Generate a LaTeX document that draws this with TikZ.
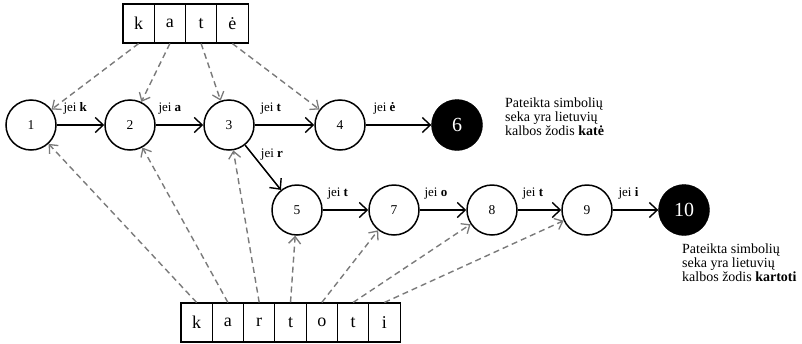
\documentclass[tikz,border=0pt]{standalone}
\usepackage{fontspec}
\setmainfont{Liberation Serif}
\usetikzlibrary{arrows.meta}
\definecolor{linkgray}{HTML}{7A7A7A}
\begin{document}
\begin{tikzpicture}[x=1pt,y=-1pt,
 state/.style={circle,draw,line width=1.5pt,minimum size=50pt,inner sep=0pt,font=\fontsize{13.5}{13.5}\selectfont},
 final/.style={circle,fill=black,draw=black,minimum size=51pt,inner sep=0pt,text=white,font=\fontsize{20}{20}\selectfont},
 letter/.style={draw,line width=1.1pt,minimum width=31.3pt,minimum height=39pt,inner sep=0pt,font=\fontsize{18}{18}\selectfont},
 trans/.style={-{Straight Barb[length=8pt,width=15pt,line width=1.4pt]},line width=1.5pt},
 link/.style={-{Straight Barb[length=7pt,width=12pt,line width=1.3pt]},draw=linkgray,dash pattern=on 6pt off 4pt,line width=1.4pt},
 lbl/.style={font=\fontsize{13}{13}\selectfont,anchor=south west,inner sep=1pt},
 note/.style={align=left,anchor=west,font=\fontsize{14}{14}\selectfont,inner sep=0pt}]
\useasboundingbox (0,0) rectangle (802,343);

% word boxes
\node[letter] (k1) at (138.6,23.5) {k};
\node[letter] (a1) at (169.9,23.5) {a};
\node[letter] (t1) at (201.1,23.5) {t};
\node[letter] (e1) at (232.4,23.5) {ė};

\node[letter] (k2) at (196.6,322.5) {k};
\node[letter] (a2) at (227.9,322.5) {a};
\node[letter] (r2) at (259.2,322.5) {r};
\node[letter] (t2) at (290.5,322.5) {t};
\node[letter] (o2) at (321.8,322.5) {o};
\node[letter] (u2) at (353.1,322.5) {t};
\node[letter] (i2) at (384.4,322.5) {i};

% states
\node[state] (n1) at (31,125) {1};
\node[state] (n2) at (130,125) {2};
\node[state] (n3) at (229,125) {3};
\node[state] (n4) at (340,125) {4};
\node[final] (n6) at (457,125) {6};

\node[state] (n5) at (297,210) {5};
\node[state] (n7) at (394,210) {7};
\node[state] (n8) at (492,210) {8};
\node[state] (n9) at (587,210) {9};
\node[final] (n10) at (684,210) {10};

% transitions
\draw[trans] (n1) -- node[lbl,pos=0,xshift=5pt,yshift=9pt]{jei \textbf{k}} (n2);
\draw[trans] (n2) -- node[lbl,pos=0,xshift=1pt,yshift=9pt]{jei \textbf{a}} (n3);
\draw[trans] (n3) -- node[lbl,pos=0,xshift=4pt,yshift=9pt]{jei \textbf{t}} (n4);
\draw[trans] (n4) -- node[lbl,pos=0,xshift=6pt,yshift=9pt]{jei \textbf{ė}} (n6);
\draw[trans] (n3) -- (n5);
\node[font=\fontsize{13}{13}\selectfont,inner sep=1pt] (lr) at (272,155) {jei \textbf{r}};
\draw[trans] (n5) -- node[lbl,pos=0,xshift=3pt,yshift=9pt]{jei \textbf{t}} (n7);
\draw[trans] (n7) -- node[lbl,pos=0,xshift=3pt,yshift=9pt]{jei \textbf{o}} (n8);
\draw[trans] (n8) -- node[lbl,pos=0,xshift=3pt,yshift=9pt]{jei \textbf{t}} (n9);
\draw[trans] (n9) -- node[lbl,pos=0,xshift=4pt,yshift=9pt]{jei \textbf{i}} (n10);

% links from letters
\draw[link] (k1.south) -- (n1);
\draw[link] (a1.south) -- (n2);
\draw[link] (t1.south) -- (n3);
\draw[link] (e1.south) -- (n4);

\draw[link] (k2.north) -- (n1);
\draw[link] (a2.north) -- (n2);
\draw[link] (r2.north) -- (n3);
\draw[link] (t2.north) -- (n5);
\draw[link] (o2.north) -- (n7);
\draw[link] (u2.north) -- (n8);
\draw[link] (i2.north) -- (n9);

% notes
\node[note] (m1) at (505,117) {Pateikta simbolių\\seka yra lietuvių\\kalbos žodis \textbf{katė}};
\node[note] (m2) at (682,263) {Pateikta simbolių\\seka yra lietuvių\\kalbos žodis \textbf{kartoti}};
\end{tikzpicture}
\end{document}
